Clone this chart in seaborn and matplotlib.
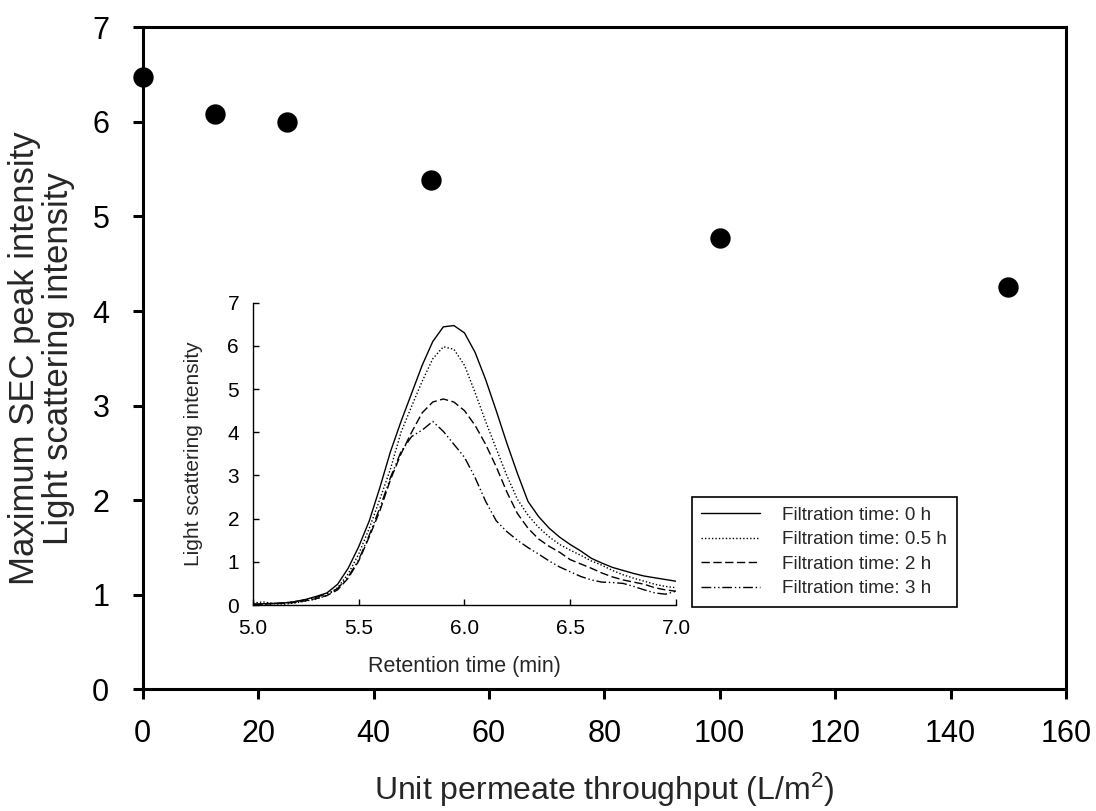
import numpy as np
import pandas as pd
import matplotlib
matplotlib.use("Agg")
import matplotlib.pyplot as plt
import seaborn as sns

# ---------------- data ----------------
throughput = [0, 12.5, 25, 50, 100, 150]
peak_intensity = [6.48, 6.08, 6.00, 5.39, 4.77, 4.25]

retention_time = [5.00, 5.05, 5.10, 5.15, 5.20, 5.25, 5.30, 5.35, 5.40, 5.45,
                  5.50, 5.55, 5.60, 5.65, 5.70, 5.75, 5.80, 5.85, 5.90, 5.95,
                  6.00, 6.05, 6.10, 6.15, 6.20, 6.25, 6.30, 6.35, 6.40, 6.45,
                  6.50, 6.55, 6.60, 6.65, 6.70, 6.75, 6.80, 6.85, 6.90, 6.95, 7.00]

ls_0h = [0.02, 0.03, 0.04, 0.05, 0.08, 0.13, 0.20, 0.28, 0.48, 0.85,
         1.35, 1.95, 2.72, 3.55, 4.25, 4.90, 5.55, 6.10, 6.44, 6.47,
         6.30, 5.85, 5.22, 4.50, 3.75, 3.05, 2.40, 2.05, 1.78, 1.57,
         1.40, 1.25, 1.08, 0.97, 0.87, 0.80, 0.73, 0.67, 0.63, 0.59, 0.55]

ls_05h = [0.05, 0.07, 0.03, 0.02, 0.05, 0.09, 0.14, 0.22, 0.40, 0.72,
          1.18, 1.78, 2.45, 3.15, 4.00, 4.60, 5.18, 5.70, 5.98, 5.92,
          5.55, 4.92, 4.25, 3.62, 3.00, 2.45, 2.08, 1.80, 1.58, 1.40,
          1.27, 1.15, 1.02, 0.92, 0.80, 0.70, 0.62, 0.55, 0.48, 0.43, 0.40]

ls_2h = [0.01, 0.02, 0.03, 0.04, 0.06, 0.10, 0.15, 0.22, 0.35, 0.62,
         1.02, 1.58, 2.18, 2.90, 3.50, 4.00, 4.45, 4.70, 4.77, 4.70,
         4.50, 4.16, 3.72, 3.20, 2.62, 2.12, 1.78, 1.53, 1.36, 1.22,
         1.05, 0.95, 0.85, 0.74, 0.65, 0.58, 0.53, 0.48, 0.40, 0.35, 0.32]

ls_3h = [0.02, 0.01, 0.03, 0.05, 0.08, 0.12, 0.18, 0.26, 0.38, 0.65,
         1.05, 1.62, 2.25, 2.95, 3.55, 3.90, 4.05, 4.25, 4.02, 3.72,
         3.42, 2.95, 2.40, 1.95, 1.70, 1.50, 1.33, 1.18, 1.02, 0.88,
         0.77, 0.66, 0.58, 0.53, 0.52, 0.50, 0.43, 0.35, 0.28, 0.25, 0.32]

series_labels = ["Filtration time: 0 h", "Filtration time: 0.5 h",
                 "Filtration time: 2 h", "Filtration time: 3 h"]

# ---------------- style ----------------
sns.set_style("ticks")
plt.rcParams['font.family'] = ['Liberation Sans', 'DejaVu Sans']
plt.rcParams['mathtext.fontset'] = 'custom'
plt.rcParams['mathtext.rm'] = 'Liberation Sans'
plt.rcParams['mathtext.it'] = 'Liberation Sans:italic'
plt.rcParams['mathtext.default'] = 'regular'

fig = plt.figure(figsize=(10.96, 8.11), dpi=100)
fig.patch.set_facecolor('white')

# main axes
ax = fig.add_axes([0.1302, 0.1500, 0.8424, 0.8163])
main_df = pd.DataFrame({"x": throughput, "y": peak_intensity})
sns.scatterplot(data=main_df, x="x", y="y", ax=ax, s=215, color="black",
                edgecolor="black", linewidth=0, clip_on=False, zorder=5)
ax.set_xlim(0, 160)
ax.set_ylim(0, 7)
ax.set_xticks(np.arange(0, 161, 20))
ax.set_yticks(np.arange(0, 8, 1))
for sp in ax.spines.values():
    sp.set_linewidth(2.2)
    sp.set_color("black")
ax.tick_params(axis='both', which='major', direction='out', length=7,
               width=2.2, colors='black', labelsize=22)
ax.tick_params(axis='x', pad=14)
ax.tick_params(axis='y', pad=17)
ax.set_xlabel("Unit permeate throughput (L/m$^2$)", fontsize=23, labelpad=16)
ax.set_ylabel("Maximum SEC peak intensity\nLight scattering intensity",
              fontsize=25, linespacing=1.05)
ax.yaxis.set_label_coords(-0.0733, 0.5)

# inset axes
ax_in = fig.add_axes([0.2308, 0.2540, 0.3860, 0.3728])
ax_in.set_facecolor('white')
styles = ['-', (0, (1, 1.5)), (0, (6, 2.5)), (0, (7, 2, 1, 2, 1, 2))]
all_series = [ls_0h, ls_05h, ls_2h, ls_3h]
for vals, lab, st in zip(all_series, series_labels, styles):
    d = pd.DataFrame({"t": retention_time, "v": vals})
    sns.lineplot(data=d, x="t", y="v", ax=ax_in, color="black",
                 linewidth=1.0, linestyle=st, label=lab, estimator=None,
                 sort=False)
ax_in.set_xlim(5.0, 7.0)
ax_in.set_ylim(0, 7)
ax_in.set_xticks([5.0, 5.5, 6.0, 6.5, 7.0])
ax_in.set_xticklabels(["5.0", "5.5", "6.0", "6.5", "7.0"])
ax_in.set_yticks(np.arange(0, 8, 1))
ax_in.spines['top'].set_visible(False)
ax_in.spines['right'].set_visible(False)
for s in ['left', 'bottom']:
    ax_in.spines[s].set_linewidth(1.0)
    ax_in.spines[s].set_color('black')
ax_in.tick_params(axis='both', direction='in', length=4, width=1.0,
                  labelsize=15, colors='black')
ax_in.tick_params(axis='x', pad=10)
ax_in.tick_params(axis='y', pad=10)
ax_in.set_xlabel("Retention time (min)", fontsize=15.5)
ax_in.set_ylabel("Light scattering intensity", fontsize=15)
ax_in.xaxis.set_label_coords(0.5, -0.17)
ax_in.yaxis.set_label_coords(-0.118, 0.5)

leg = ax_in.legend(loc='lower left', bbox_to_anchor=(0.631, 0.252),
                   bbox_transform=fig.transFigure, fontsize=13.6,
                   frameon=True, fancybox=False, handlelength=3.1,
                   handletextpad=1.2, borderpad=0.5, labelspacing=0.38,
                   borderaxespad=0)
leg.get_frame().set_edgecolor('black')
leg.get_frame().set_linewidth(1.2)
leg.get_frame().set_alpha(1)

fig.savefig("out.png", dpi=100, facecolor='white')
